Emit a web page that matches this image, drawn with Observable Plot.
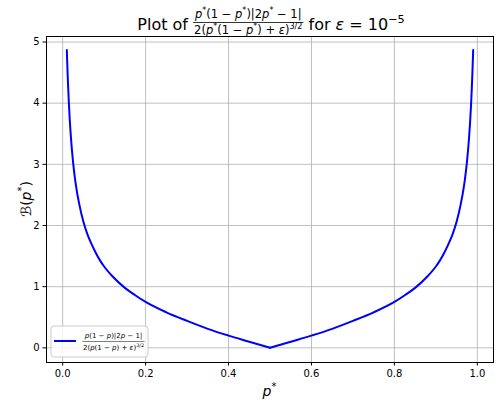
<!DOCTYPE html>
<html>
<head>
<meta charset="utf-8">
<script src="https://cdn.jsdelivr.net/npm/d3@7"></script>
<script src="https://cdn.jsdelivr.net/npm/@observablehq/plot@0.6"></script>
<style>
  html, body { margin: 0; padding: 0; background: white; }
  svg text { white-space: pre; }
</style>
</head>
<body>
<script>
// Curve samples
const pValues = [0.01, 0.011, 0.012, 0.013, 0.015, 0.0175, 0.02, 0.025, 0.03, 0.035, 0.04, 0.05, 0.06, 0.07, 0.08, 0.09, 0.1, 0.12, 0.15, 0.175, 0.2, 0.25, 0.3, 0.35, 0.4, 0.45, 0.5,
                 0.55, 0.6, 0.65, 0.7, 0.75, 0.8, 0.825, 0.85, 0.88, 0.9, 0.91, 0.92, 0.93, 0.94, 0.95, 0.96, 0.965, 0.97, 0.975, 0.98, 0.9825, 0.985, 0.987, 0.988, 0.989, 0.99];
const bValues = [4.87, 4.67, 4.47, 4.30, 3.99, 3.68, 3.43, 3.04, 2.75, 2.53, 2.35, 2.06, 1.85, 1.69, 1.55, 1.43, 1.33, 1.17, 0.98, 0.86, 0.75, 0.58, 0.44, 0.31, 0.20, 0.10, 0.00,
                 0.10, 0.20, 0.31, 0.44, 0.58, 0.75, 0.86, 0.98, 1.17, 1.33, 1.43, 1.55, 1.69, 1.85, 2.06, 2.35, 2.53, 2.75, 3.04, 3.43, 3.68, 3.99, 4.30, 4.47, 4.67, 4.87];
const xTicks = [0.0, 0.2, 0.4, 0.6, 0.8, 1.0];
const yTicks = [0, 1, 2, 3, 4, 5];

// table: split into two halves so the vertex at p = 0.5 stays sharp
const rows = [];
pValues.forEach((p, i) => {
  if (p <= 0.5) rows.push({p, b: bValues[i], side: "L"});
  if (p >= 0.5) rows.push({p, b: bValues[i], side: "R"});
});

const chart = Plot.plot({
  width: 503,
  height: 412,
  marginLeft: 46,
  marginRight: 10,
  marginTop: 36,
  marginBottom: 50,
  style: {fontFamily: "DejaVu Sans", fontSize: "10px", color: "black", background: "white"},
  x: {domain: [-0.039, 1.039]},
  y: {domain: [-0.24, 5.09]},
  marks: [
    Plot.gridX(xTicks, {stroke: "#b0b0b0", strokeOpacity: 1, strokeWidth: 0.8}),
    Plot.gridY(yTicks, {stroke: "#b0b0b0", strokeOpacity: 1, strokeWidth: 0.8}),
    Plot.line(rows, {x: "p", y: "b", z: "side", stroke: "#0000ff", strokeWidth: 2, curve: "monotone-x"}),
    Plot.frame({stroke: "black", strokeWidth: 1}),
    Plot.axisX(xTicks, {tickFormat: d => d.toFixed(1), tickSize: 3.5, tickPadding: 3.5, label: null, fontSize: 10}),
    Plot.axisY(yTicks, {tickFormat: d => String(d), tickSize: 3.5, tickPadding: 3.5, label: null, fontSize: 10})
  ]
});
document.body.appendChild(chart);

const svg = d3.select(chart);

function rich(parent, x, y, segs, size, anchor = "start") {
  const t = parent.append("text")
    .attr("x", x).attr("y", y)
    .attr("font-size", size)
    .attr("text-anchor", anchor)
    .attr("font-family", "DejaVu Sans")
    .attr("fill", "black");
  let shift = 0;
  for (const [s, k] of segs) {
    const ts = t.append("tspan").text(s);
    let target = 0, fs = size;
    if (k === "s") { target = -size * 0.45; fs = size * 0.7; }
    if (k === "i") ts.attr("font-style", "italic");
    ts.attr("font-size", fs);
    if (target !== shift) { ts.attr("dy", target - shift); shift = target; }
  }
  return t;
}

// Title
const numSegs = [["p","i"],["*","s"],["(1 − ","n"],["p","i"],["*","s"],[")|2","n"],["p","i"],["*","s"],[" − 1|","n"]];
const denSegs = [["2(","n"],["p","i"],["*","s"],["(1 − ","n"],["p","i"],["*","s"],[") + ","n"],["ε","i"],[")","n"],["3/2","s"]];
const tg = svg.append("g");
const t1 = rich(tg, 0, 30, [["Plot of ","n"]], 16);
const tn = rich(tg, 0, 18, numSegs, 11.5, "middle");
const td = rich(tg, 0, 34, denSegs, 11.5, "middle");
const t3 = rich(tg, 0, 30, [[" for ","n"],["ε","i"],[" = 10","n"],["−5","s"]], 16);
const w1 = t1.node().getBBox().width;
const fw = Math.max(tn.node().getBBox().width, td.node().getBBox().width) + 2;
const w3 = t3.node().getBBox().width;
const x0 = 271 - (w1 + fw + w3) / 2;
t1.attr("x", x0);
tn.attr("x", x0 + w1 + fw / 2);
td.attr("x", x0 + w1 + fw / 2);
tg.append("line").attr("x1", x0 + w1).attr("x2", x0 + w1 + fw).attr("y1", 22.5).attr("y2", 22.5)
  .attr("stroke", "black").attr("stroke-width", 0.8);
t3.attr("x", x0 + w1 + fw);

// Axis labels
rich(svg, 269.5, 396, [["p","i"],["*","s"]], 14, "middle");
const yl = svg.append("g").attr("transform", "translate(31,199) rotate(-90)");
rich(yl, 0, 0, [["ℬ","n"],["(","n"],["p","i"],["*","s"],[")","n"]], 14, "middle");

// Legend
const lg = svg.append("g");
lg.append("rect").attr("x", 51).attr("y", 326).attr("width", 97).attr("height", 31).attr("rx", 3)
  .attr("fill", "white").attr("fill-opacity", 0.8).attr("stroke", "#cccccc").attr("stroke-width", 1);
lg.append("line").attr("x1", 54).attr("x2", 76).attr("y1", 341).attr("y2", 341)
  .attr("stroke", "#0000ff").attr("stroke-width", 2);
const lnSegs = [["p","i"],["(1 − ","n"],["p","i"],[")|2","n"],["p","i"],[" − 1|","n"]];
const ldSegs = [["2(","n"],["p","i"],["(1 − ","n"],["p","i"],[") + ","n"],["ε","i"],[")","n"],["3/2","s"]];
const ln = rich(lg, 113.5, 338, lnSegs, 7, "middle");
const ld = rich(lg, 113.5, 350, ldSegs, 7, "middle");
const lw = Math.max(ln.node().getBBox().width, ld.node().getBBox().width) + 1;
lg.append("line").attr("x1", 113.5 - lw / 2).attr("x2", 113.5 + lw / 2).attr("y1", 341.5).attr("y2", 341.5)
  .attr("stroke", "black").attr("stroke-width", 0.5);
</script>
</body>
</html>
